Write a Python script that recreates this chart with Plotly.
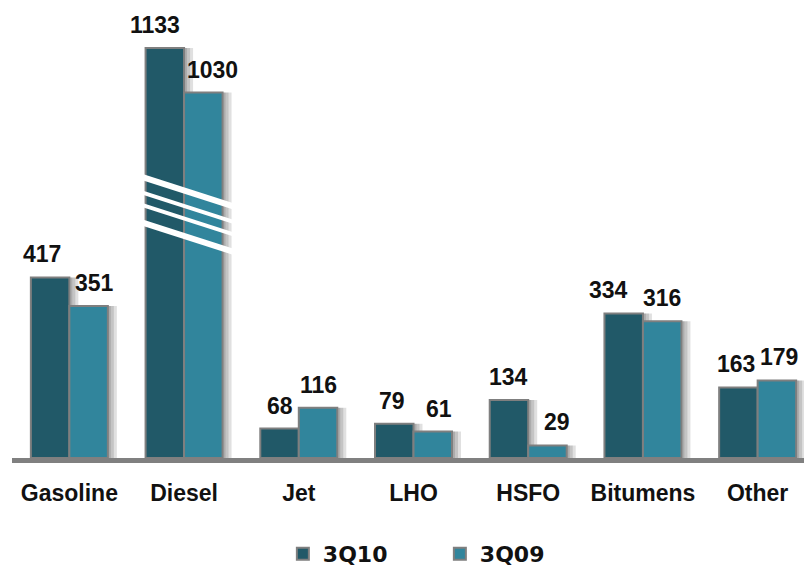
import plotly.graph_objects as go

# Product sales by category, third quarter 2010 vs 2009
categories = ["Gasoline", "Diesel", "Jet", "LHO", "HSFO", "Bitumens", "Other"]
sales_3q10 = [417, 1133, 68, 79, 134, 334, 163]
sales_3q09 = [351, 1030, 116, 61, 29, 316, 179]
series_names = ["3Q10", "3Q09"]

# Horizontal nudges (px) of the value labels
label_dx_3q10 = [-8, -10, 0, -2, 0, -15, -2]
label_dx_3q09 = [6, 9, 0, 6, 10, 0, 2]

COLORS = ["#215968", "#31859C"]
OUTLINE = "#7f7f7f"
LABEL_FONT = "Liberation Sans, Arial, sans-serif"

W, H = 804, 570
M_L, M_R, M_T, M_B = 12, 0, 10, 112
PLOT_W = W - M_L - M_R
PLOT_H = H - M_T - M_B
PX_PER_UNIT = 0.433
CAT_PX = PLOT_W / 6.904          # pixels per category slot
BAR_W = 38.5 / CAT_PX            # bar width in category units

# Broken value axis: lower panel up to BREAK_LO, upper panel from BREAK_HI
SEAM_PX = 215                    # page y of the break
lower_h = (M_T + PLOT_H) - SEAM_PX
upper_h = SEAM_PX - M_T
BREAK_LO = lower_h / PX_PER_UNIT
BREAK_HI = 747.3
split = lower_h / PLOT_H

fig = go.Figure()

series = [sales_3q10, sales_3q09]
offsets = [-BAR_W, 0.0]

for xa, ya in (("x", "y"), ("x2", "y2")):
    # soft drop shadow to the right of each bar
    for vals, off in zip(series, offsets):
        for k in (3, 6, 9):
            fig.add_trace(go.Bar(
                x=categories, y=vals, xaxis=xa, yaxis=ya,
                width=BAR_W, offset=off + k / CAT_PX,
                marker=dict(color="rgba(0,0,0,0.12)", line=dict(width=0)),
                showlegend=False, hoverinfo="skip",
            ))
    for name, vals, off, col in zip(series_names, series, offsets, COLORS):
        fig.add_trace(go.Bar(
            x=categories, y=vals, xaxis=xa, yaxis=ya, name=name,
            width=BAR_W, offset=off,
            marker=dict(color=col, line=dict(color=OUTLINE, width=2)),
            showlegend=(xa == "x"), legendgroup=name,
        ))

# value labels
annotations = []
for vals, off, dxs in zip(series, offsets, [label_dx_3q10, label_dx_3q09]):
    for cat, v, dx in zip(categories, vals, dxs):
        annotations.append(dict(
            x=cat, y=v, xref="x", yref="y2" if v > BREAK_LO else "y",
            text=str(v), showarrow=False, yanchor="bottom", xanchor="center",
            xshift=(off + BAR_W / 2) * CAT_PX + dx, yshift=8,
            font=dict(family=LABEL_FONT, size=23, color="#111111", weight="bold"),
        ))

# white slanted stripes marking the axis break on the Diesel bars
def px_x(px):
    return (px - M_L) / PLOT_W

def px_y(py):
    return (M_T + PLOT_H - py) / PLOT_H

shapes = []
for y_left, lw in ((178, 6), (193.5, 4), (206, 4), (223.5, 6)):
    x0, x1 = 141, 242
    slope = 0.32
    shapes.append(dict(
        type="line", xref="paper", yref="paper",
        x0=px_x(x0), x1=px_x(x1),
        y0=px_y(y_left - slope * 4), y1=px_y(y_left + slope * (x1 - 145)),
        line=dict(color="white", width=lw),
    ))

fig.update_layout(
    width=W, height=H,
    margin=dict(l=M_L, r=M_R, t=M_T, b=M_B, autoexpand=False),
    paper_bgcolor="white", plot_bgcolor="white",
    barmode="overlay",
    xaxis=dict(
        type="category", categoryorder="array", categoryarray=categories,
        range=[-0.5, 6.404], domain=[0, 1], anchor="y",
        showline=True, linecolor="#808080", linewidth=5,
        showgrid=False, zeroline=False, ticks="",
        tickfont=dict(family=LABEL_FONT, size=23, color="#111111", weight="bold"),
        ticklabelstandoff=10,
    ),
    xaxis2=dict(
        type="category", matches="x", anchor="y2", visible=False,
    ),
    yaxis=dict(
        domain=[0, split], range=[0, BREAK_LO], visible=False,
        showgrid=False, zeroline=False,
    ),
    yaxis2=dict(
        domain=[split, 1], range=[BREAK_HI, BREAK_HI + upper_h / PX_PER_UNIT],
        visible=False, showgrid=False, zeroline=False,
    ),
    legend=dict(
        orientation="h", x=0.342, xanchor="left", y=-0.214, yanchor="middle",
        font=dict(family="DejaVu Sans, sans-serif", size=22, color="#111111",
                  weight="bold"),
        entrywidth=112, entrywidthmode="pixels",
        bgcolor="rgba(0,0,0,0)",
    ),
    annotations=annotations,
    shapes=shapes,
)

fig.write_html("out.html")
